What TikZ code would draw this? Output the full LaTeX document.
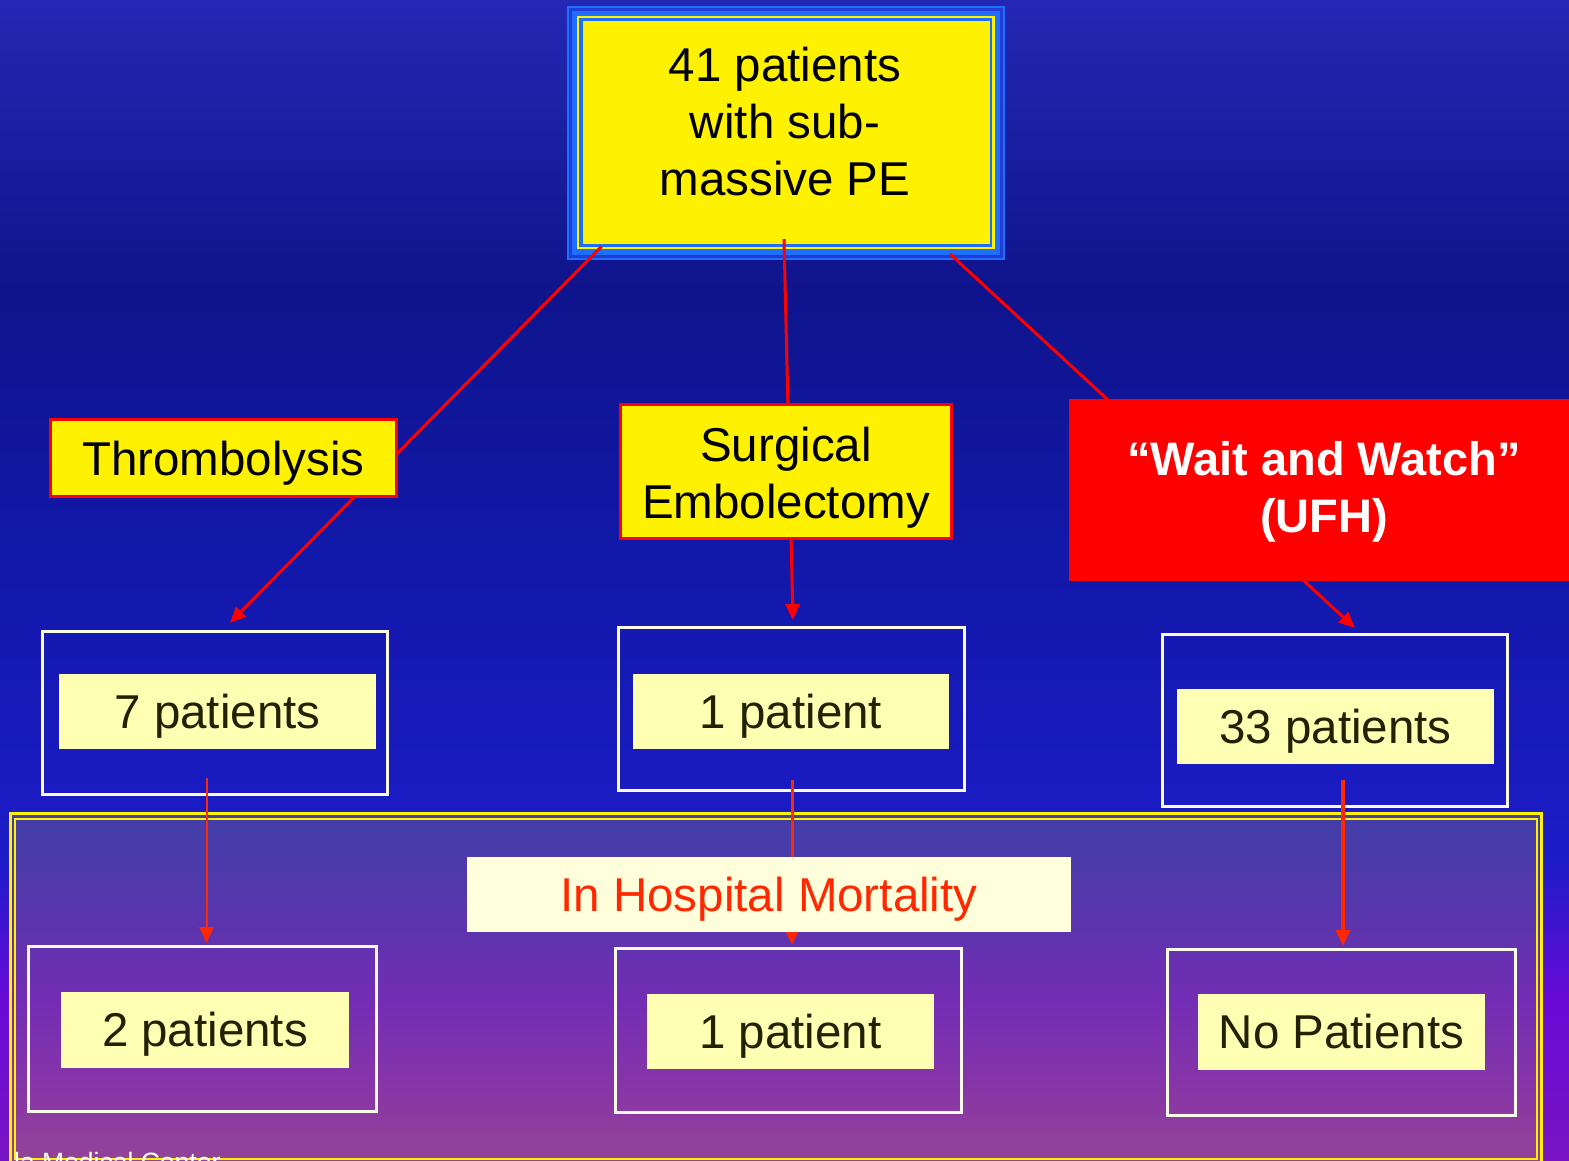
\documentclass[tikz,border=0pt]{standalone}
\usepackage{fontspec}
\setmainfont{Liberation Sans}
\usetikzlibrary{arrows.meta,calc}
\pgfdeclarelayer{back}
\pgfdeclarelayer{edges}
\pgfsetlayers{back,edges,main}
\definecolor{bg0}{RGB}{36,40,180}
\definecolor{bg1}{RGB}{15,20,140}
\definecolor{bg2}{RGB}{18,24,168}
\definecolor{bg3}{RGB}{28,28,200}
\definecolor{bg4}{RGB}{105,10,215}
\definecolor{bg5}{RGB}{120,20,195}
\definecolor{pn0}{RGB}{66,62,168}
\definecolor{pn1}{RGB}{85,55,172}
\definecolor{pn2}{RGB}{115,45,180}
\definecolor{pn3}{RGB}{138,55,165}
\definecolor{pn4}{RGB}{146,68,150}
\definecolor{fbright}{RGB}{30,110,255}
\definecolor{fdark}{RGB}{35,60,210}
\definecolor{wline}{RGB}{250,250,235}
\definecolor{labfill}{RGB}{255,255,180}
\definecolor{labtext}{RGB}{34,34,0}
\definecolor{hospfill}{RGB}{255,255,220}
\definecolor{hosptext}{RGB}{255,40,0}
\definecolor{conred}{RGB}{255,0,0}
\definecolor{conredb}{RGB}{255,40,0}
\pgfdeclareverticalshading{bgshade}{100bp}{color(0bp)=(bg5); color(25bp)=(bg5); color(31.9bp)=(bg4); color(38bp)=(bg3); color(51.3bp)=(bg2); color(62.5bp)=(bg1); color(75bp)=(bg0); color(100bp)=(bg0)}
\pgfdeclareverticalshading{pnshade}{100bp}{color(0bp)=(pn4); color(25bp)=(pn4); color(33.9bp)=(pn3); color(48.1bp)=(pn2); color(62.4bp)=(pn1); color(75bp)=(pn0); color(100bp)=(pn0)}
\begin{document}
\begin{tikzpicture}[x=1pt,y=-1pt,
  big/.style={font=\fontsize{47.5}{57}\selectfont},
  txt/.style={inner sep=0pt, align=center},
  ybox/.style={fill=yellow, draw=conred, line width=3pt, inner sep=0pt},
  outline/.style={draw=wline, line width=3pt, inner sep=0pt},
  lab/.style={fill=labfill, text=labtext, inner sep=0pt, big, text height=34pt, text depth=0pt},
  conn/.style={draw=conred, line width=3pt, -{Triangle[length=16pt,width=14pt]}},
  connb/.style={draw=conredb, line width=3pt, -{Triangle[length=16pt,width=14pt]}}]
\useasboundingbox (0,0) rectangle (1569,1161);
\begin{pgfonlayer}{back}
  \shade[shading=bgshade] (0,0) rectangle (1569,1161);
  \shade[shading=pnshade] (10.5,813.5) rectangle (1541.5,1161);
  \draw[yellow, line width=3pt] (10.5,813.5) rectangle (1541.5,1162);
  \draw[yellow, line width=2pt] (15,819) rectangle (1536.5,1159);
  % top frame
  \fill[fbright] (567,6) rectangle (1005,260);
  \fill[fdark] (569,8) rectangle (1003,258);
  \fill[fbright] (572,11) rectangle (1000,255);
  \fill[yellow] (577,16) rectangle (995,249);
  \fill[fbright] (579,18) rectangle (992,247);
  \node[fill=yellow, minimum width=407pt, minimum height=223pt, inner sep=0pt] (top) at (786.5,132.5) {};
  \node[txt, big] (topT) at (785,122) {41 patients\\with sub-\\massive PE};
  % outline boxes
  \node[outline, minimum width=345pt, minimum height=163pt] (m1) at (215,713) {};
  \node[outline, minimum width=346pt, minimum height=163pt] (m2) at (791.5,709) {};
  \node[outline, minimum width=345pt, minimum height=172pt] (m3) at (1335,720.5) {};
  \node[outline, minimum width=348pt, minimum height=165pt] (b1) at (202.5,1029) {};
  \node[outline, minimum width=346pt, minimum height=164pt] (b2) at (788.5,1030.5) {};
  \node[outline, minimum width=348pt, minimum height=166pt] (b3) at (1341.5,1032.5) {};
\end{pgfonlayer}
\clip (0,0) rectangle (1569,1161);
% middle row decision boxes
\node[ybox, minimum width=346pt, minimum height=77pt, big, text height=34pt, text depth=0pt] (thr) at (223.5,458) {Thrombolysis};
\node[ybox, minimum width=331pt, minimum height=134pt] (surg) at (786,471.5) {};
\node[txt, big] (surgT) at (786,477.5) {Surgical\\Embolectomy};
\node[fill=conred, minimum width=511pt, minimum height=182pt, inner sep=0pt] (wait) at (1324.5,490) {};
\node[txt, text=white, font=\fontsize{47}{57}\selectfont\bfseries] (waitT) at (1324,492) {“Wait and Watch”\\(UFH)};
% labels
\node[lab, minimum width=317pt, minimum height=75pt] (l1) at (217.5,711.5) {7 patients};
\node[lab, minimum width=316pt, minimum height=75pt] (l2) at (791,711.5) {1 patient};
\node[lab, minimum width=317pt, minimum height=75pt] (l3) at (1335.5,726.5) {33 patients};
\node[lab, minimum width=288pt, minimum height=76pt] (lb1) at (205,1029.5) {2 patients};
\node[lab, minimum width=287pt, minimum height=75pt] (lb2) at (790.5,1031) {1 patient};
\node[lab, minimum width=287pt, minimum height=76pt] (lb3) at (1341.5,1031.5) {No Patients};
\node[fill=hospfill, text=hosptext, inner sep=0pt, big, text height=34pt, text depth=0pt, minimum width=604pt, minimum height=75pt] (hosp) at (769,894) {In Hospital Mortality};
% footer
\node[inner sep=0pt, anchor=base west, text=white, font=\fontsize{26.5}{30}\selectfont] (foot) at (14,1171) {la Medical Center};
% connectors
\coordinate (s1) at (601.5,246.5);
\coordinate (s2) at (784,239);
\coordinate (s3) at (950,254);
\coordinate (e1) at (230,623);
\coordinate (e2) at (793,620);
\coordinate (e3) at (1355,628);
\coordinate (d1) at (206.5,778);
\coordinate (d2) at (792,780);
\coordinate (d3) at (1343,780);
\coordinate (f1) at (206.5,943);
\coordinate (f2) at (792,945);
\coordinate (f3) at (1343,946);
\begin{pgfonlayer}{edges}
  \draw[conn] (s1) -- (e1);
  \draw[conn] (s2) -- (e2);
  \draw[conn] (s3) -- (e3);
  \draw[connb, line width=2pt] (d1) -- (f1);
  \draw[connb] (d2) -- (f2);
  \draw[connb, line width=3.5pt] (d3) -- (f3);
\end{pgfonlayer}
\end{tikzpicture}
\end{document}
